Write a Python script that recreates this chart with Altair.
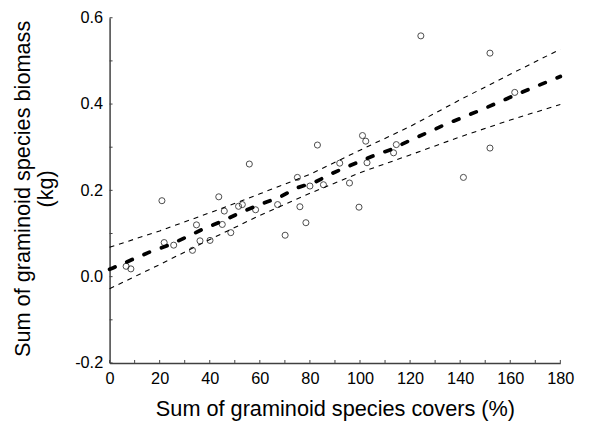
import altair as alt
import pandas as pd

# scatter points: cover (%) vs biomass (kg)
pt_x = [6.6, 8.5, 20.9, 21.8, 25.6, 33.1, 34.7, 36.1, 40.1, 43.6, 45.0, 45.8, 48.4,
        51.5, 53.0, 55.8, 58.3, 67.1, 70.1, 75.0, 76.0, 78.4, 80.0, 83.0, 85.4,
        91.9, 95.8, 99.6, 101.0, 102.3, 102.8, 113.4, 114.5, 124.3, 141.3, 151.9,
        151.9, 161.8]
pt_y = [0.024, 0.018, 0.176, 0.079, 0.073, 0.061, 0.120, 0.083, 0.084, 0.185, 0.121,
        0.152, 0.102, 0.163, 0.167, 0.261, 0.155, 0.167, 0.096, 0.230, 0.162, 0.125,
        0.210, 0.305, 0.213, 0.263, 0.217, 0.161, 0.327, 0.314, 0.264, 0.287, 0.306,
        0.558, 0.230, 0.518, 0.298, 0.427]

# fitted curve (read from dashes)
fit_x = [0, 1.3, 8.8, 16.0, 24.5, 30.8, 38.3, 45.6, 52.8, 60.0, 67.9, 74.4, 82.0, 89.5,
         97.0, 104.9, 112.5, 119.7, 127.0, 134.2, 141.4, 148.6, 156.5, 163.7, 171.6,
         178.8, 180]
fit_y = [0.017, 0.020, 0.039, 0.057, 0.075, 0.092, 0.113, 0.130, 0.150, 0.167, 0.184,
         0.205, 0.219, 0.241, 0.260, 0.279, 0.295, 0.315, 0.334, 0.353, 0.370, 0.387,
         0.407, 0.425, 0.444, 0.461, 0.464]

# confidence bands
band_x = [0, 20, 40, 60, 80, 100, 120, 140, 160, 180]
band_up = [0.068, 0.106, 0.148, 0.192, 0.237, 0.293, 0.348, 0.410, 0.469, 0.527]
band_lo = [-0.028, 0.028, 0.086, 0.142, 0.193, 0.241, 0.282, 0.324, 0.363, 0.399]

x_ticks = [0, 20, 40, 60, 80, 100, 120, 140, 160, 180]
x_minor = [0, 10, 20, 30, 40, 50, 60, 70, 80, 90, 100, 110, 120, 130, 140, 150, 160, 170, 180]
y_ticks = [-0.2, 0.0, 0.2, 0.4, 0.6]
y_minor = [-0.2, -0.1, 0.0, 0.1, 0.2, 0.3, 0.4, 0.5, 0.6]

W, H = 457, 350
FONT = "Liberation Sans"

pts = pd.DataFrame({"x": pt_x, "y": pt_y})
fit = pd.DataFrame({"x": fit_x, "y": fit_y})
bands = pd.DataFrame({"x": band_x * 2, "y": band_up + band_lo,
                      "b": ["up"] * len(band_x) + ["lo"] * len(band_x)})
xt = pd.DataFrame({"x": x_minor})
yt = pd.DataFrame({"y": y_minor})

xscale = alt.Scale(domain=[0, 180], nice=False, zero=False)
yscale = alt.Scale(domain=[-0.2, 0.6], nice=False, zero=False)

xaxis = alt.Axis(values=x_ticks, ticks=False, grid=False, domainColor="#404040",
                 domainWidth=1.5, labelFont=FONT, labelFontSize=16.5, labelColor="black",
                 labelPadding=8, labelFlush=False, labelOverlap=False,
                 title="Sum of graminoid species covers (%)",
                 titleFont=FONT, titleFontSize=22, titleFontWeight="normal",
                 titleColor="black", titleY=46, titleBaseline="middle")
yaxis = alt.Axis(values=y_ticks, ticks=False, grid=False, domainColor="#404040",
                 domainWidth=1.5, labelFont=FONT, labelFontSize=16.5, labelColor="black",
                 labelPadding=7, labelFlush=False, labelOverlap=False,
                 labelExpr="datum.value < 0 ? '-' + format(-datum.value, '.1f') : format(datum.value, '.1f')",
                 title=["Sum of graminoid species biomass", "(kg)"],
                 titleFont=FONT, titleFontSize=22, titleFontWeight="normal",
                 titleColor="black", titleLineHeight=23, titleX=-88, titleY=H / 2 - 2,
                 titleAngle=270, titleAlign="center", titleBaseline="middle")

X = alt.X("x:Q", scale=xscale, axis=xaxis)
Y = alt.Y("y:Q", scale=yscale, axis=yaxis)

band_layer = alt.Chart(bands).mark_line(color="black", strokeWidth=1.1,
                                        strokeDash=[5, 5]).encode(
    x=X, y=Y, detail="b:N",
)

fit_layer = alt.Chart(fit).mark_line(color="black", strokeWidth=3.8, strokeDash=[6, 13],
                                     strokeCap="round").encode(
    x=X, y=Y, order="x:Q",
)

pt_layer = alt.Chart(pts).mark_point(shape="circle", filled=False, color="black",
                                     size=38, strokeWidth=1).encode(
    x=X, y=Y,
)

xtick_layer = alt.Chart(xt).mark_rule(color="#404040", strokeWidth=1).encode(
    x=X,
    y=alt.value(H),
    y2=alt.value(H - 3),
)

ytick_layer = alt.Chart(yt).mark_rule(color="#404040", strokeWidth=1).encode(
    y=Y,
    x=alt.value(0),
    x2=alt.value(3),
)

chart = alt.layer(band_layer, fit_layer, pt_layer, xtick_layer, ytick_layer).properties(
    width=W, height=H,
    autosize=alt.AutoSizeParams(type="none"),
    padding={"left": 103, "top": 7, "right": 24, "bottom": 58},
).configure_view(stroke="transparent")

chart.save("out.html", embed_options={"renderer": "svg", "actions": False})
